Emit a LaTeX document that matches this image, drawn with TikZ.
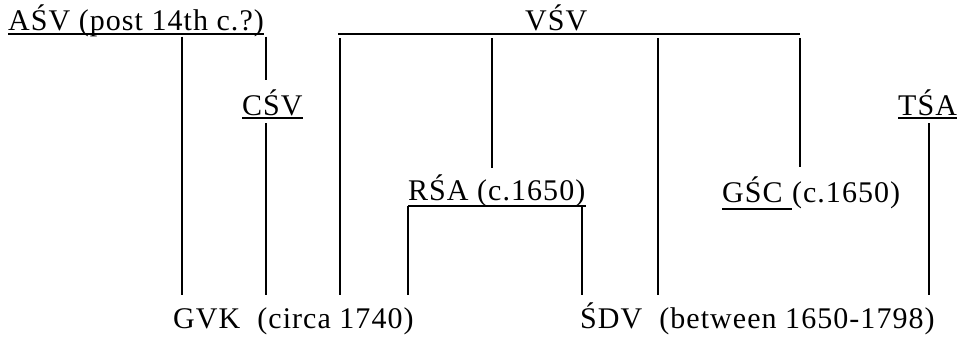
\documentclass[tikz,border=0pt]{standalone}
\usepackage{fontspec}
\setmainfont{Liberation Serif}[LetterSpace=3.5]
\usetikzlibrary{positioning}

\tikzset{
  lbl/.style={anchor=base west, inner sep=0pt, font=\fontsize{30}{35}\selectfont},
  uline/.style={line width=1.5pt},
  stem/.style={line width=2.6pt},
}

\begin{document}
\begin{tikzpicture}[x=1pt, y=-1pt]
    \useasboundingbox (0,0) rectangle (964,341);

    % Labels
    \node[lbl] (asv) at (8,30) {AŚV (post 14th c.?)};
    \node[lbl] (vsv) at (525,30) {VŚV};
    \node[lbl] (csv) at (242,115) {CŚV};
    \node[lbl] (tsa) at (898,115) {TŚA};
    \node[lbl] (rsa) at (408,200) {RŚA (c.1650)};
    \node[lbl] (gsc) at (722,202) {GŚC\kern0.3em};
    \node[lbl] (gscdate) at (gsc.base east) {(c.1650)};
    \node[lbl] (gvk) at (173,328) {GVK\ \ (circa 1740)};
    \node[lbl] (sdv) at (580,328) {ŚDV\ \ (between 1650-1798)};

    % Underlines
    \foreach \n/\d in {asv/4, csv/3, tsa/3, rsa/6, gsc/7}
        \draw[uline] ([yshift=-\d pt]\n.base west) -- ([yshift=-\d pt]\n.base east);

    % VSV bar
    \coordinate (vsvl) at (338,34);
    \coordinate (vsvr) at (800,34);
    \draw[uline] (vsvl) -- (vsvr);

    % Stem ends
    \foreach \nm/\x in {b1/182, b2/266, b3/340, b4/408, b5/582, b6/658, b7/929}
        \coordinate (\nm) at (\x,295);
    \coordinate (t4) at (492,168);
    \coordinate (t8) at (800,167);

    % Stems from ASV
    \draw[stem] (b1 |- asv.south) -- (b1);
    \draw[stem] (b2 |- asv.south) -- (266,80);
    \draw[stem] ([yshift=-8pt]b2 |- csv.base) -- (b2);

    % Stems from VSV
    \draw[stem] ([yshift=-4pt]vsvl -| b3) -- (b3);
    \draw[stem] ([yshift=-4pt]vsvl -| t4) -- (t4);
    \draw[stem] ([yshift=-4pt]vsvl -| b6) -- (b6);
    \draw[stem] ([yshift=-4pt]vsvr) -- (t8);

    % Stems from RSA and TSA
    \draw[stem] ([yshift=-6pt]rsa.base -| b4) -- (b4);
    \draw[stem] ([yshift=-6pt]rsa.base -| b5) -- (b5);
    \draw[stem] ([yshift=-8pt]tsa.base -| b7) -- (b7);
\end{tikzpicture}
\end{document}
